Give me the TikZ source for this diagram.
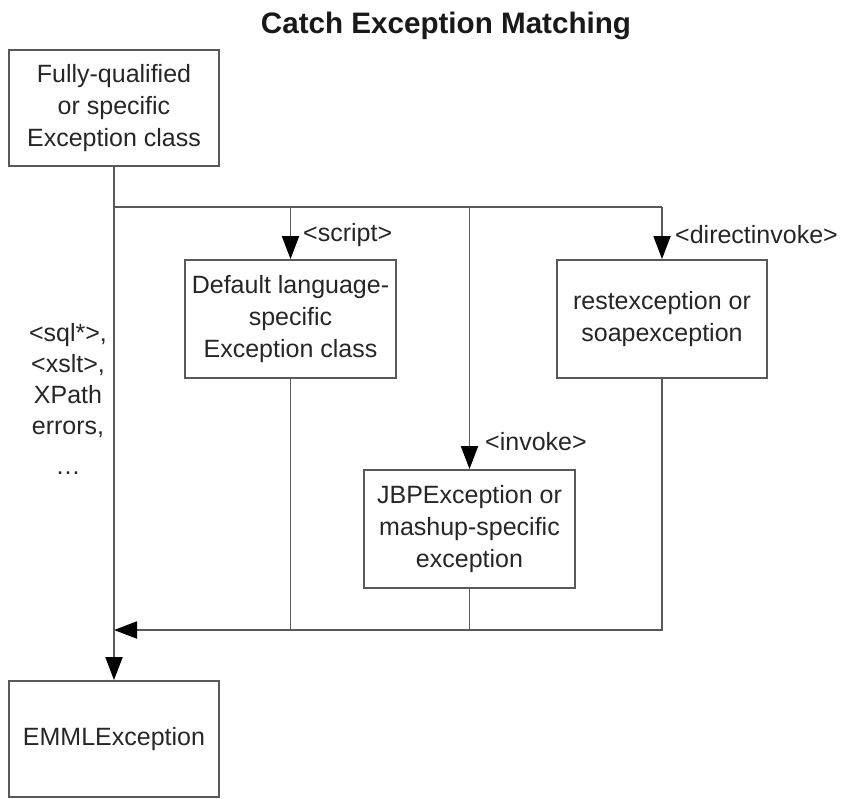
\documentclass[tikz,border=0pt]{standalone}
\usepackage{fontspec}
\setmainfont{Liberation Sans}
\usetikzlibrary{arrows.meta,positioning}

\tikzset{
  box/.style={draw=black!65, line width=1.8pt, minimum width=211pt, minimum height=118pt,
    inner sep=0pt, align=center, text=black!85, font=\fontsize{25}{32}\selectfont},
  lbl/.style={inner sep=0pt, anchor=west, text=black!85, font=\fontsize{25}{31}\selectfont},
  wire/.style={draw=black!65, line width=1.8pt},
  arr/.style={wire, -{Triangle[width=17pt,length=23pt,color=black]}},
}

\begin{document}
\begin{tikzpicture}[x=1pt,y=-1pt]
        \useasboundingbox (0,0) rectangle (843,798);
        \node[font=\bfseries\fontsize{29.6}{34}\selectfont, text=black!90] (title) at (446,26) {Catch Exception Matching};

        % boxes
        \node[box, minimum width=210pt, minimum height=116pt] (qual) at (114,108) {Fully-qualified\\or specific\\Exception class};
        \node[box] (lang) at (290.5,319) {Default language-\\specific\\Exception class};
        \node[box, minimum width=210pt] (rest) at (662,319) {restexception or\\soapexception};
        \node[box] (jbp) at (469.5,529) {JBPException or\\mashup-specific\\exception};
        \node[box, minimum width=210pt, minimum height=116pt] (emml) at (114,739) {EMMLException};

        % labels
        \node[lbl] (script) at (303,235) {<script>};
        \node[lbl] (direct) at (675,235) {<directinvoke>};
        \node[lbl] (invoke) at (485,442) {<invoke>};
        \node[lbl, anchor=center, align=center] (other) at (68,399) {<sql*>,\\<xslt>,\\XPath\\errors,\\[9pt]…};

        % connectors
        \coordinate (split) at (qual.south |- 0,207);
        \coordinate (merge) at (qual.south |- 0,630);
        \draw[wire] (split) -- (rest.north |- split);
        \draw[arr] (lang.north |- split) -- (lang.north);
        \draw[arr] (jbp.north |- split) -- (jbp.north);
        \draw[arr] (rest.north |- split) -- (rest.north);
        \draw[arr] (qual.south) -- (emml.north);
        \draw[wire] (lang.south) -- (lang.south |- merge);
        \draw[wire] (jbp.south) -- (jbp.south |- merge);
        \draw[arr] (rest.south) -- (rest.south |- merge) -- (merge);
\end{tikzpicture}
\end{document}
